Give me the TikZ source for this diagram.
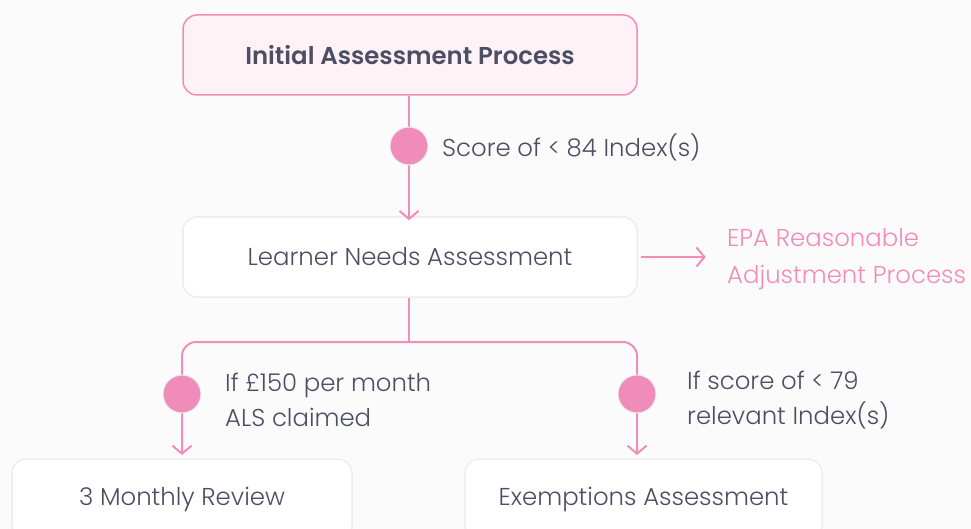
\documentclass[tikz,border=0pt]{standalone}
\usepackage{fontspec}
\setmainfont{Poppins}[UprightFont={* Light},BoldFont={* SemiBold}]
\usetikzlibrary{arrows.meta}

\definecolor{pinkline}{HTML}{F28DB8}
\definecolor{pinkfill}{HTML}{FFF2F7}
\definecolor{dotpink}{HTML}{F08CBA}
\definecolor{txtgray}{HTML}{4B4F63}
\definecolor{boxline}{HTML}{EDEDEF}
\definecolor{bggray}{HTML}{FBFBFC}

\tikzset{
  stepbox/.style={draw=boxline, line width=1.5pt, fill=white, rounded corners=14pt,
    minimum height=80pt, text=txtgray, font=\fontsize{24.4}{28}\selectfont},
  flow/.style={draw=pinkline, line width=2pt},
  tip/.style={-{Straight Barb[length=8pt,width=19pt]}},
  dot/.style={circle, fill=dotpink, draw=boxline, line width=1pt, minimum size=38pt, inner sep=0pt},
  cond/.style={text=txtgray, anchor=west, align=left, inner sep=0pt,
    font=\fontsize{24.4}{35}\selectfont},
}

\begin{document}
\begin{tikzpicture}[x=1pt,y=-1pt]
  \fill[bggray] (0,0) rectangle (971,529);
  \useasboundingbox (0,0) rectangle (971,529);

  % boxes
  \node[stepbox, draw=pinkline, fill=pinkfill, minimum width=454pt, font=\fontsize{24.4}{28}\selectfont\bfseries] (iap) at (410,55) {Initial Assessment Process};
  \node[stepbox, minimum width=454pt] (lna) at (410,257) {Learner Needs Assessment};
  \node[stepbox, minimum width=340pt] (mr) at (182,499) {3 Monthly Review};
  \node[stepbox, minimum width=357pt] (ea) at (643.5,499) {Exemptions Assessment};

  % first step
  \draw[flow, tip] (iap.south -| 409,0) -- ([yshift=-4pt]lna.north -| 409,0);
  \node[dot] (d1) at (409,146) {};
  \node[cond] (c1) at (442,147) {Score of < 84 Index(s)};

  % side arrow
  \draw[flow, tip] ([xshift=3pt]lna.east) -- ++(65,0) coordinate (epa);
  \node[text=pinkline, anchor=west, align=left, inner sep=0pt, font=\fontsize{24.4}{37}\selectfont] (rap) at (727,259.5) {EPA Reasonable\\Adjustment Process};

  % split
  \draw[flow] (lna.south -| 409,0) -- (409,342) coordinate (split);
  \draw[flow, tip, rounded corners=14pt] (split) -| (182,455);
  \draw[flow, tip, rounded corners=14pt] (split) -| (637,455);
  \node[dot] (d2) at (182,394) {};
  \node[dot] (d3) at (637,394) {};
  \node[cond] (c2) at (225,400) {If £150 per month\\ALS claimed};
  \node[cond] (c3) at (687,400) {If score of < 79\\relevant Index(s)};
\end{tikzpicture}
\end{document}
